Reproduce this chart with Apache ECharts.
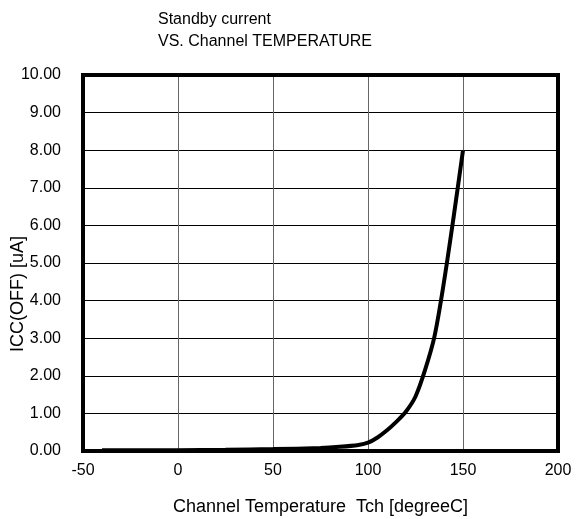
<!DOCTYPE html>
<html lang="en" style="height: 100%">
<head>
    <meta charset="UTF-8">
    <title>Standby current VS. Channel TEMPERATURE</title>
    <script src="https://cdn.jsdelivr.net/npm/echarts@6/dist/echarts.min.js"></script>
</head>
<body style="height: 100%; margin: 0">
<div id="main" style="width: 577px; height: 519px"></div>
<script>
    var temps = [-40, 0, 25, 50, 75, 85, 95, 100, 105, 110, 115, 120, 125, 130, 135, 140, 145, 150];
    var icc = [0.02, 0.02, 0.03, 0.05, 0.08, 0.11, 0.16, 0.22, 0.36, 0.55, 0.78, 1.05, 1.45, 2.15, 3.05, 4.5, 6.2, 8.0];

    var font = 'Liberation Sans, Arial, sans-serif';
    var myChart = echarts.init(document.getElementById('main'));
    myChart.setOption({
        animation: false,
        title: {
            text: 'Standby current\nVS. Channel TEMPERATURE',
            left: 153,
            top: 4,
            textStyle: {fontFamily: font, fontSize: 16, fontWeight: 'normal', color: '#000', lineHeight: 22}
        },
        // y axis title sits lower than the plot middle in the original
        graphic: [{
            type: 'text',
            x: 18,
            y: 294,
            rotation: Math.PI / 2,
            style: {text: 'ICC(OFF) [uA]', font: '18px ' + font, fill: '#000',
                align: 'center', verticalAlign: 'middle'}
        }],
        grid: {left: 83, top: 75, right: 19, bottom: 68, outerBoundsMode: 'none',
            show: true, borderColor: '#000', borderWidth: 4, z: 3},
        xAxis: {
            type: 'value',
            min: -50, max: 200, interval: 50,
            name: 'Channel Temperature  Tch [degreeC]',
            nameLocation: 'middle',
            nameGap: 47,
            nameTextStyle: {fontFamily: font, fontSize: 18, color: '#000'},
            axisLine: {show: false},
            axisTick: {show: false},
            axisLabel: {fontFamily: font, fontSize: 16, color: '#000', margin: 12},
            splitLine: {lineStyle: {color: '#666', width: 1}}
        },
        yAxis: {
            type: 'value',
            min: 0, max: 10, interval: 1,
            axisLine: {show: false},
            axisTick: {show: false},
            axisLabel: {fontFamily: font, fontSize: 16, color: '#000', margin: 22,
                formatter: function (v) { return v.toFixed(2); }},
            splitLine: {lineStyle: {color: '#000', width: 1}}
        },
        series: [{
            type: 'line',
            data: temps.map(function (t, i) { return [t, icc[i]]; }),
            smooth: 0.3,
            showSymbol: false,
            lineStyle: {color: '#000', width: 4}
        }]
    });
</script>
</body>
</html>
